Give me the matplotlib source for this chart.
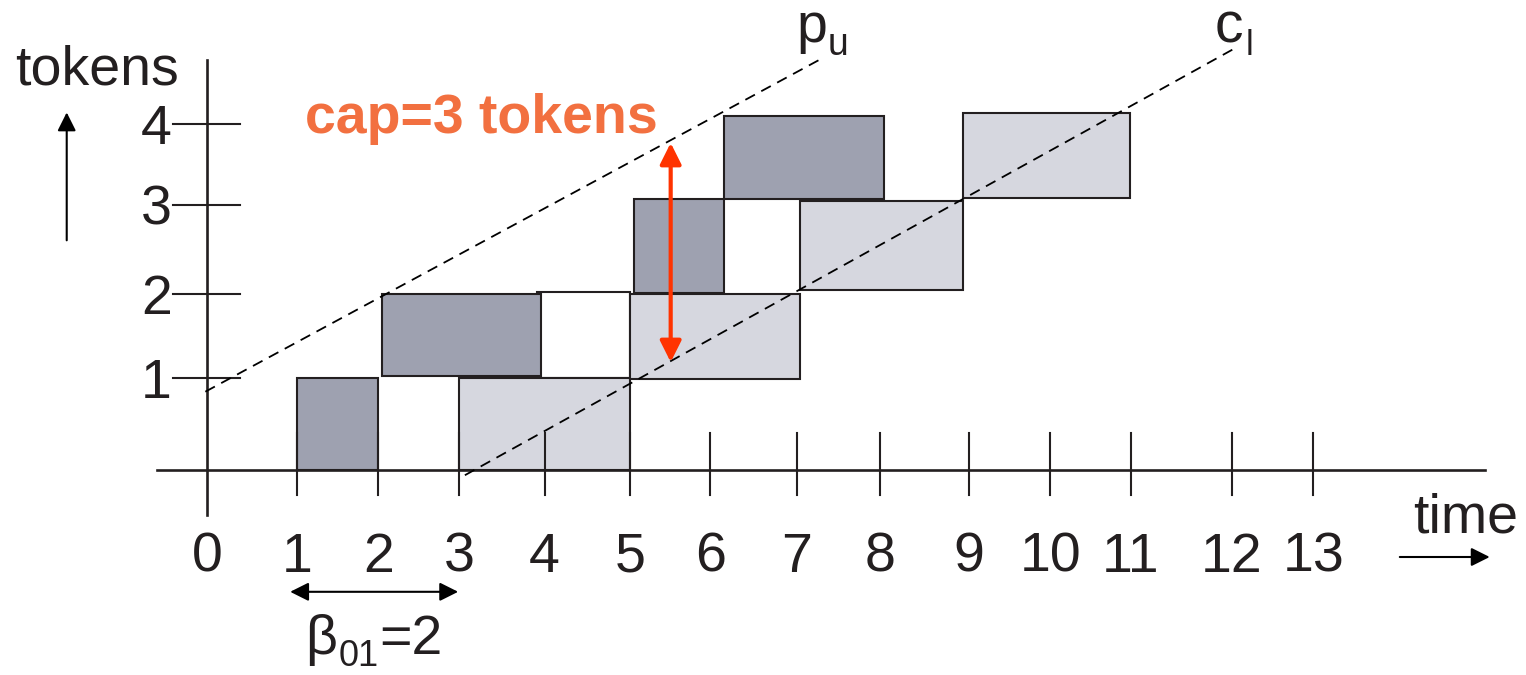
import matplotlib
matplotlib.use("Agg")
import matplotlib.pyplot as plt
from matplotlib.patches import Rectangle

plt.rcParams['font.family'] = ['Liberation Sans', 'DejaVu Sans']

# time axis ticks (hand drawn, slightly uneven) and labels
time_pos = [0, 1.07, 2.04, 3.0, 4.02, 5.04, 5.99, 7.02, 8.01, 9.07, 10.04, 11.0, 12.2, 13.17]
time_labels = ['0', '1', '2', '3', '4', '5', '6', '7', '8', '9', '10', '11', '12', '13']

# token axis ticks
token_pos = [1.06, 2.02, 3.05, 3.98]
token_labels = ['1', '2', '3', '4']

# producer firings (dark boxes): start, end, bottom, top
prod_start = [1.07, 2.08, 5.08, 6.15]
prod_end = [2.04, 3.98, 6.15, 8.06]
prod_low = [0.0, 1.08, 2.03, 3.11]
prod_high = [1.06, 2.02, 3.11, 4.07]

# consumer firings (light boxes)
cons_start = [3.0, 5.04, 7.06, 9.0]
cons_end = [5.04, 7.06, 9.0, 10.99]
cons_low = [0.0, 1.05, 2.07, 3.13]
cons_high = [1.06, 2.02, 3.09, 4.10]

# empty slot
empty_start, empty_end, empty_low, empty_high = 3.93, 5.04, 1.06, 2.05

# bounds lines
pu_t = [-0.02, 7.30]
pu_v = [0.90, 4.72]
cl_t = [3.07, 12.26]
cl_v = [-0.06, 4.86]

dark = '#9ea1b0'
light = '#d6d7df'
ink = '#231f20'
orange = '#f27040'
red = '#ff3300'

fig = plt.figure(figsize=(15.26, 6.75), dpi=100)
ax = fig.add_axes([0, 0, 1, 1])
ax.set_xlim(-207 / 84, (1526 - 207) / 84)
ax.set_ylim(-(675 - 470) / 87, 470 / 87)
ax.axis('off')

ax.add_patch(Rectangle((empty_start, empty_low), empty_end - empty_start, empty_high - empty_low,
                       facecolor='white', edgecolor=ink, lw=1.5, zorder=1))
for s, e, lo, hi in zip(cons_start, cons_end, cons_low, cons_high):
    ax.add_patch(Rectangle((s, lo), e - s, hi - lo, facecolor=light, edgecolor=ink, lw=1.5, zorder=2))
for s, e, lo, hi in zip(prod_start, prod_end, prod_low, prod_high):
    ax.add_patch(Rectangle((s, lo), e - s, hi - lo, facecolor=dark, edgecolor=ink, lw=1.5, zorder=2))

# axes
ax.plot([-0.60, 15.21], [0, 0], color=ink, lw=1.9, zorder=3)
ax.plot([0, 0], [-0.52, 4.71], color=ink, lw=1.9, zorder=3)
for t, lab in zip(time_pos, time_labels):
    if t > 0:
        ax.plot([t, t], [-0.29, 0.43], color=ink, lw=1.5, zorder=3)
    ax.text(t, -1.17, lab, ha='center', va='baseline', fontsize=40, color=ink)
for v, lab in zip(token_pos, token_labels):
    ax.plot([-0.40, 0.39], [v, v], color=ink, lw=1.5, zorder=3)
    ax.text(-0.42, v - 0.23, lab, ha='right', va='baseline', fontsize=40, color=ink)

# dashed bounds
ax.plot(pu_t, pu_v, color='black', lw=1.3, ls=(0, (6, 4)), zorder=4)
ax.plot(cl_t, cl_v, color='black', lw=1.3, ls=(0, (6, 4)), zorder=4)
ax.text(7.02, 4.92, 'p', fontsize=40, color=ink, ha='left', va='baseline')
ax.text(7.39, 4.77, 'u', fontsize=27, color=ink, ha='left', va='baseline')
ax.text(12.0, 4.91, 'c', fontsize=41, color=ink, ha='left', va='baseline')
ax.text(12.36, 4.77, 'l', fontsize=25, color=ink, ha='left', va='baseline')

# axis titles
ax.text(-2.29, 4.43, 'tokens', fontsize=40, color=ink, ha='left', va='baseline')
ax.annotate('', xy=(-1.67, 4.11), xytext=(-1.67, 2.64),
            arrowprops=dict(arrowstyle='-|>', color='black', lw=1.5, mutation_scale=28,
                            shrinkA=0, shrinkB=0))
ax.text(14.36, -0.72, 'time', fontsize=40, color=ink, ha='left', va='baseline')
ax.annotate('', xy=(15.27, -1.0), xytext=(14.2, -1.0),
            arrowprops=dict(arrowstyle='-|>', color='black', lw=1.5, mutation_scale=28,
                            shrinkA=0, shrinkB=0))

# capacity
ax.text(1.17, 3.87, 'cap=3 tokens', fontsize=40, fontweight='bold', color=orange,
        ha='left', va='baseline')
ax.annotate('', xy=(5.52, 3.76), xytext=(5.52, 1.24),
            arrowprops=dict(arrowstyle='<|-|>', color=red, lw=3, mutation_scale=32,
                            shrinkA=0, shrinkB=0), zorder=5)

# beta
ax.annotate('', xy=(2.99, -1.40), xytext=(0.99, -1.40),
            arrowprops=dict(arrowstyle='<|-|>', color='black', lw=1.5, mutation_scale=28,
                            shrinkA=0, shrinkB=0))
ax.text(1.17, -2.12, 'β', fontsize=40, color=ink, ha='left', va='baseline')
ax.text(1.57, -2.25, '01', fontsize=26, color=ink, ha='left', va='baseline')
ax.text(2.05, -2.12, '=2', fontsize=40, color=ink, ha='left', va='baseline')

fig.savefig('out.png', dpi=100)
